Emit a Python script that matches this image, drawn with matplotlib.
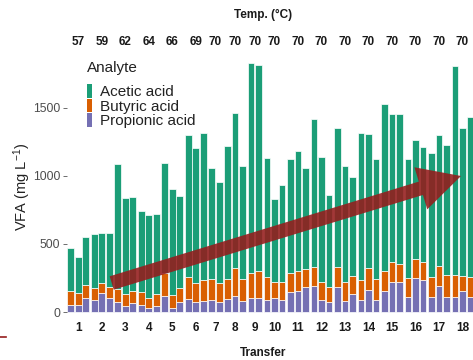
import matplotlib
matplotlib.use('Agg')
import matplotlib.pyplot as plt
from matplotlib import font_manager, transforms
from matplotlib.patches import Rectangle, FancyArrow
from matplotlib.lines import Line2D
import numpy as np

# ---------------- data ----------------
transfers = [str(i) for i in range(1, 19)]
temps = ['57', '59', '62', '64', '66', '69'] + ['70'] * 12
bars_per_transfer = [3, 3, 3, 3, 3, 3, 2, 3, 2, 3, 3, 3, 3, 3, 3, 3, 3, 3]

propionic = [51, 51, 100, 88, 137, 100, 76, 44, 68, 51, 27, 44, 116, 27, 76, 96, 76, 83,
             88, 76, 93, 119, 81, 100, 105, 90, 100, 88, 149, 154, 186, 193, 88, 71, 186,
             81, 130, 88, 164, 90, 151, 217, 217, 110, 252, 235, 110, 192, 113, 113, 151, 113]
butyric = [103, 90, 95, 88, 77, 82, 91, 88, 89, 98, 73, 88, 168, 98, 98, 164, 138, 152,
           152, 136, 147, 202, 162, 184, 196, 170, 123, 130, 135, 147, 130, 140, 135, 110, 147,
           137, 137, 147, 157, 154, 147, 153, 138, 138, 138, 135, 148, 147, 161, 161, 112, 141]
acetic = [318, 265, 354, 395, 369, 401, 923, 703, 688, 593, 613, 586, 811, 777, 679, 1041, 994, 1083,
          816, 746, 980, 1139, 830, 1548, 1514, 870, 605, 715, 840, 882, 745, 1085, 914, 679, 1017,
          858, 728, 1083, 987, 878, 1231, 1085, 1100, 876, 874, 845, 912, 961, 956, 1534, 1093, 1177]

analytes = ['Acetic acid', 'Butyric acid', 'Propionic acid']
colors = {'Acetic acid': '#1B9E77', 'Butyric acid': '#D95F02', 'Propionic acid': '#7570B3'}
yticks = [0, 500, 1000, 1500]

# ---------------- fonts ----------------
plt.rcParams['font.family'] = ['Liberation Sans', 'DejaVu Sans']
plt.rcParams['mathtext.fontset'] = 'custom'
plt.rcParams['mathtext.rm'] = 'Liberation Sans'
plt.rcParams['mathtext.it'] = 'Liberation Sans:italic'
plt.rcParams['mathtext.bf'] = 'Liberation Sans:bold'
names = {f.name for f in font_manager.fontManager.ttflist}
if 'Liberation Sans Narrow' in names:
    bold_family, bold_size = ['Liberation Sans Narrow', 'DejaVu Sans'], 10
else:
    bold_family, bold_size = ['Liberation Sans', 'DejaVu Sans'], 8.5

W, H = 473, 360
fig = plt.figure(figsize=(W / 100, H / 100), dpi=100)
fig.patch.set_facecolor('white')


def fx(px):
    return px / W


def fy(py):
    return 1 - py / H


ax = fig.add_axes([fx(67), fy(318), fx(473) - fx(67), fy(50) - fy(318)])

# bar positions (groups of bars per transfer with a small gap)
gap = 0.12
pos, centers = [], []
k = 0
for g, n in enumerate(bars_per_transfer):
    p = [k + j + g * gap for j in range(n)]
    pos += p
    centers.append(float(np.mean(p)))
    k += n
pos = np.array(pos)

prop = np.array(propionic)
but = np.array(butyric)
ace = np.array(acetic)
bw = 0.9
ax.bar(pos, prop, width=bw, color=colors['Propionic acid'], edgecolor='white', linewidth=0.5)
ax.bar(pos, but, width=bw, bottom=prop, color=colors['Butyric acid'], edgecolor='white', linewidth=0.5)
ax.bar(pos, ace, width=bw, bottom=prop + but, color=colors['Acetic acid'], edgecolor='white', linewidth=0.5)

ax.set_xlim(-0.49, 53.44)
ax.set_ylim(-44, 1926)
for s in ax.spines.values():
    s.set_visible(False)
ax.set_xticks([])
ax.set_yticks(yticks)
ax.set_yticklabels([str(v) for v in yticks], fontsize=8.8, color='#4D4D4D')
ax.tick_params(axis='y', length=2.75, width=0.5, color='#333333', pad=2)
ax.set_facecolor('white')

blend = transforms.blended_transform_factory(ax.transData, fig.transFigure)
for c, t in zip(centers, transfers):
    ax.text(c, fy(328), t, transform=blend, ha='center', va='center',
            family=bold_family, fontweight='bold', fontsize=bold_size, color='#1a1a1a')
for c, t in zip(centers, temps):
    ax.text(c, fy(42), t, transform=blend, ha='center', va='center',
            family=bold_family, fontweight='bold', fontsize=bold_size, color='#1a1a1a')

fig.text(fx(263), fy(15), 'Temp. (°C)', ha='center', va='center',
         family=bold_family, fontweight='bold', fontsize=bold_size, color='#1a1a1a')
fig.text(fx(263), fy(353), 'Transfer', ha='center', va='center',
         family=bold_family, fontweight='bold', fontsize=bold_size, color='#1a1a1a')
fig.text(fx(22), fy(187), 'VFA (mg L$^{-1}$)', rotation=90, ha='center', va='center',
         fontsize=10.5, color='#222222')

# legend
fig.text(fx(87), fy(68), 'Analyte', ha='left', va='center', fontsize=11, color='#222222')
baselines = [96.5, 111, 125.5]
for name, b in zip(analytes, baselines):
    fig.add_artist(Rectangle((fx(87.3), fy(b + 1)), 5 / W, 13.5 / H, transform=fig.transFigure,
                             facecolor=colors[name], edgecolor='none'))
    fig.text(fx(100), fy(b), name, ha='left', va='baseline', fontsize=11, color='#222222')

# overlay arrow (display pixel coordinates)
arrow = FancyArrow(111.7, H - 283, 349.3, 107, width=14, head_width=44, head_length=42,
                   length_includes_head=True, transform=transforms.IdentityTransform(),
                   facecolor='#951c1c', edgecolor='none', alpha=0.88, zorder=10)
fig.add_artist(arrow)
fig.add_artist(Line2D([0, 6], [H - 337, H - 337], transform=transforms.IdentityTransform(),
                      color='#951c1c', lw=1.2))

fig.savefig('out.png', dpi=100)
